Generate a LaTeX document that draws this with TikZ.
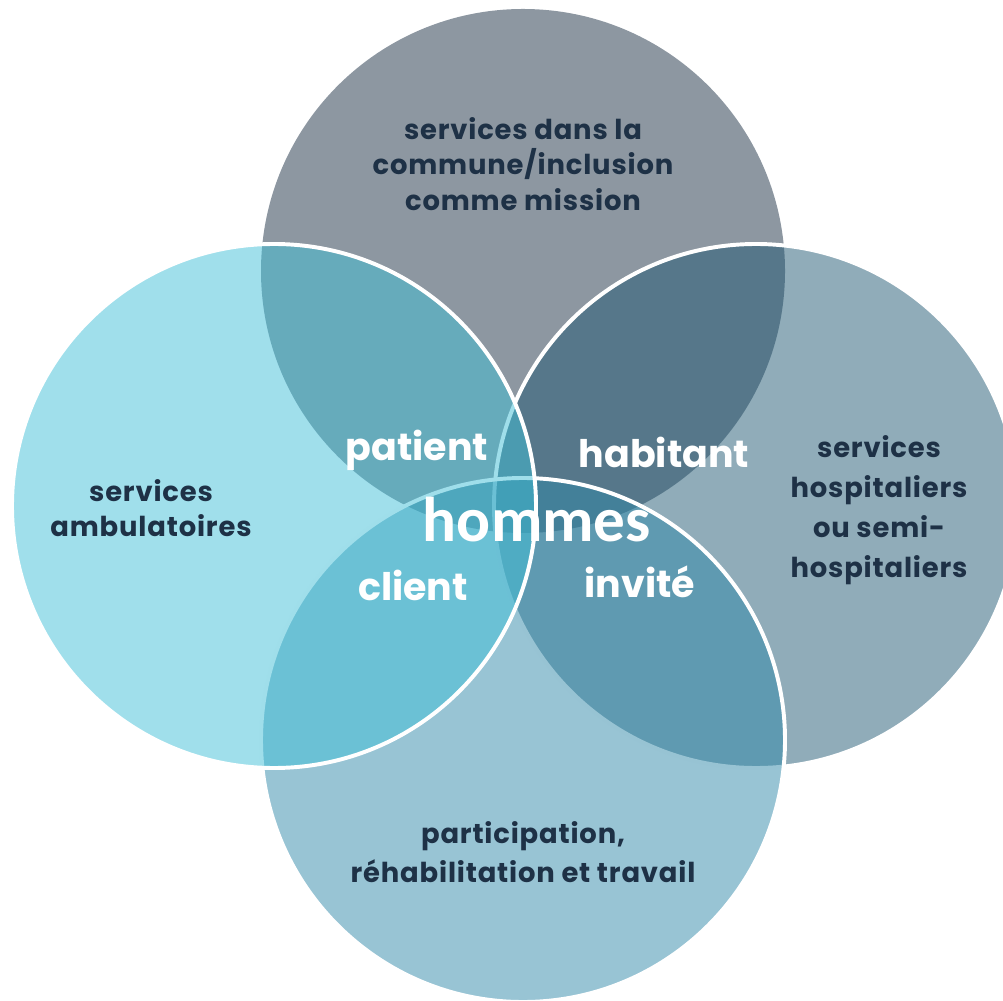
\documentclass[tikz,border=0pt]{standalone}
\usepackage{fontspec}
\setmainfont{Poppins}
\newfontfamily\centrefont{Carlito}
\definecolor{topcol}{RGB}{27,47,67}
\definecolor{rightcol}{RGB}{33,89,115}
\definecolor{bottomcol}{RGB}{49,137,169}
\definecolor{leftcol}{RGB}{65,191,215}
\definecolor{navy}{RGB}{30,49,70}
\newcommand{\fieldfont}[1]{\bfseries\fontsize{19.5}{#1}\selectfont\addfontfeature{LetterSpace=3}}
\begin{document}
\begin{tikzpicture}[x=0.025cm,y=0.025cm,
        ring/.style={fill opacity=0.5,draw=white,line width=2.8pt},
        field/.style={text=navy,align=center,font=\fieldfont{25.5}},
        role/.style={text=white,font=\bfseries\fontsize{27}{30}\selectfont}]
    \useasboundingbox (0,0) rectangle (1003,1000);
    \clip (0,0) rectangle (1003,1000);
    % the four circles, drawn over each other
    \fill[topcol,fill opacity=0.5] (523,729) circle (262);
    \filldraw[ring,fill=rightcol] (756,494) circle (262);
    \filldraw[ring,fill=bottomcol] (523,260) circle (262);
    \filldraw[ring,fill=leftcol] (274,494) circle (262);
    % texts
    \node[field] (commune) at (523,836) {services dans la\\commune/inclusion\\comme mission};
    \node[field,font=\fieldfont{24.5}] (ambulant) at (151,492) {services\\ambulatoires};
    \node[field,font=\fieldfont{28.6}] (hopital) at (879,490) {services\\hospitaliers\\ou semi-\\hospitaliers};
    \node[field,font=\fieldfont{28}] (travail) at (523,148) {participation,\\réhabilitation et travail};
    \node[role] (patient) at (417,550) {patient};
    \node[role] (habitant) at (664,548) {habitant};
    \node[role] (client) at (413,415) {client};
    \node[role] (invite) at (640,418) {invité};
    \node[text=white,font=\centrefont\bfseries\fontsize{45}{50}\selectfont] (hommes) at (537,480) {hommes};
\end{tikzpicture}
\end{document}
